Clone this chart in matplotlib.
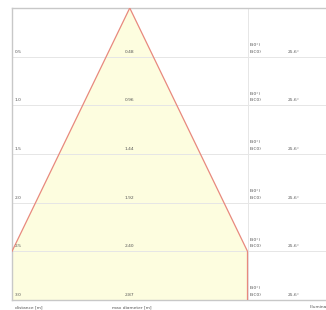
"""Beam spread diagram: distance vs. max diameter with illuminance column."""

import matplotlib.pyplot as plt
import numpy as np

# --------------------------------------------------
# data
# --------------------------------------------------
distances = [0.5, 1.0, 1.5, 2.0, 2.5, 3.0]
diameters = [0.48, 0.96, 1.44, 1.92, 2.40, 2.87]
half_angles = ["25.6°"] * 6
e_labels = ["E(0°)", "E(C0)"]
footer_labels = ["distance [m]", "max diameter [m]", "Illuminance"]

# --------------------------------------------------
# figure and axes geometry (pixel-matched)
# --------------------------------------------------
W, H = 326, 310
fig = plt.figure(figsize=(W / 100, H / 100), dpi=100)
ax = fig.add_axes([12 / W, 1 - 300 / H, 1 - 12 / W, 292 / H])
ax.set_xlim(-1.2, 2.0)
ax.set_ylim(3.0, 0.0)
ax.set_xticks([])
ax.set_yticks([])
ax.spines["right"].set_visible(False)
for side in ("left", "top", "bottom"):
    ax.spines[side].set_color("#c8c8c8")
    ax.spines[side].set_linewidth(1.0)

# --------------------------------------------------
# beam polygon, clipped to the diagram width
# --------------------------------------------------
width = 1.2
d = np.array(distances)
half = np.array(diameters) / 2
inside = half <= width
# right and left beam edges from the apex down to where they meet the clip width
right_x = np.concatenate([[0.0], half[inside], [width]])
right_y = np.concatenate([[0.0], d[inside], [d[-1]]])
left_x = np.concatenate([[0.0], -half[inside]])
left_y = np.concatenate([[0.0], d[inside]])

xs = np.concatenate([right_x, [-width], left_x[::-1]])
ys = np.concatenate([right_y, [d[-1]], left_y[::-1]])
ax.fill(xs, ys, facecolor="#fdfddf", edgecolor="none", zorder=1)
ax.plot(right_x, right_y, color="#e8897e", lw=0.9, zorder=3)
ax.plot(left_x, left_y, color="#e8897e", lw=0.9, zorder=3)

# --------------------------------------------------
# grid lines
# --------------------------------------------------
for dist in distances[:-1]:
    ax.axhline(dist, color="#e6e6e6", lw=0.7, zorder=2)
ax.axvline(width, color="#e6e6e6", lw=0.7, zorder=2)

# --------------------------------------------------
# labels
# --------------------------------------------------
fs = 3.2
col = "#555555"
for dist, dia, ang in zip(distances, diameters, half_angles):
    ax.text(-1.17, dist - 0.05, f"{dist:.1f}", fontsize=fs, color=col,
            va="center", ha="left", zorder=4)
    ax.text(-0.05, dist - 0.05, f"{dia:.2f}", fontsize=fs, color=col,
            va="center", ha="left", zorder=4)
    ax.text(1.22, dist - 0.12, e_labels[0], fontsize=fs, color=col,
            va="center", ha="left", zorder=4)
    ax.text(1.22, dist - 0.05, e_labels[1], fontsize=fs, color=col,
            va="center", ha="left", zorder=4)
    ax.text(1.61, dist - 0.05, ang, fontsize=fs, color=col,
            va="center", ha="left", zorder=4)

fig.text(15 / W, 1 - 307 / H, footer_labels[0], fontsize=fs, color=col,
         va="center", ha="left")
fig.text(112 / W, 1 - 307 / H, footer_labels[1], fontsize=fs, color=col,
         va="center", ha="left")
fig.text(310 / W, 1 - 307 / H, footer_labels[2], fontsize=fs, color=col,
         va="center", ha="left")

fig.savefig("out.png", dpi=100)
